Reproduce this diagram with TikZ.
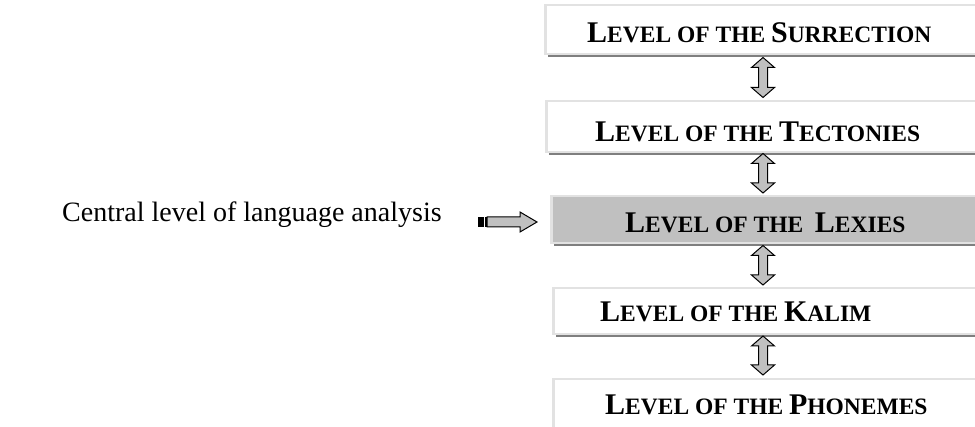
\documentclass[tikz,border=0pt]{standalone}
\usepackage{fontspec}
\setmainfont{Liberation Serif}
\usetikzlibrary{shadows,calc}
\definecolor{boxborder}{HTML}{E2E2E2}
\definecolor{shadowgray}{HTML}{7F7F7F}
\definecolor{centralfill}{HTML}{C0C0C0}
\definecolor{arrowgray}{HTML}{C0C0C0}
\newcommand\hdbig[1]{{\fontsize{30}{30}\selectfont #1}}
\newcommand\hdsmall[1]{{\fontsize{23.5}{23.5}\selectfont #1}}
% vertical double block arrow: x, y-top, y-bottom
\newcommand\dblarr[3]{%
  \draw[blockarrow] (#1,#2) -- (#1+11.5,#2+10) -- (#1+4.5,#2+10) -- (#1+4.5,#3-10)
    -- (#1+11.5,#3-10) -- (#1,#3) -- (#1-11.5,#3-10) -- (#1-4.5,#3-10)
    -- (#1-4.5,#2+10) -- (#1-11.5,#2+10) -- cycle;}
\tikzset{
  levelbox/.style={draw=boxborder, line width=2.5pt, fill=white, anchor=north west,
    minimum width=436pt, inner sep=0pt,
    drop shadow={shadow xshift=3pt, shadow yshift=-3pt, fill=shadowgray, opacity=1}},
  leveltext/.style={anchor=base west, inner sep=0pt, font=\bfseries},
  blockarrow/.style={draw=black, fill=arrowgray, line width=1pt, line join=miter}
}
\begin{document}
\begin{tikzpicture}[x=1pt,y=-1pt]
\clip (0,0) rectangle (975,427);
\fill[white] (0,0) rectangle (975,427);
% level boxes
\node[levelbox, minimum height=49pt] (b1) at (544,4) {};
\node[levelbox, minimum height=51pt] (b2) at (545,100) {};
\node[levelbox, minimum height=47pt, fill=centralfill] (b3) at (550,195) {};
\node[levelbox, minimum height=46pt] (b4) at (552,287) {};
\node[levelbox, minimum height=52pt] (b5) at (552,378) {};
% texts
\node[leveltext] (t1) at (587,43) {\hdbig{L}\hdsmall{EVEL OF THE }\hdbig{S}\hdsmall{URRECTION}};
\node[leveltext] (t2) at (595,142) {\hdbig{L}\hdsmall{EVEL OF THE }\hdbig{T}\hdsmall{ECTONIES}};
\node[leveltext] (t3) at (625,233) {\hdbig{L}\hdsmall{EVEL OF THE\ \ }\hdbig{L}\hdsmall{EXIES}};
\node[leveltext] (t4) at (600,322) {\hdbig{L}\hdsmall{EVEL OF THE }\hdbig{K}\hdsmall{ALIM}};
\node[leveltext] (t5) at (605,415) {\hdbig{L}\hdsmall{EVEL OF THE }\hdbig{P}\hdsmall{HONEMES}};
% double arrows between levels
\dblarr{763}{57.5}{97.5}
\dblarr{763}{153.5}{193}
\dblarr{763}{245.5}{285}
\dblarr{763}{336}{375}
% left label and striped pointer
\node[anchor=base west, inner sep=0pt, font=\fontsize{28}{28}\selectfont] (lbl) at (62,222) {Central level of language analysis};
\draw[blockarrow] (487,217) -- (520,217) -- (520,212) -- (537,222) -- (520,232)
  -- (520,227) -- (487,227) -- cycle;
\fill[black] (478,217) rectangle (483.5,227);
\fill[black] (485,217) rectangle (487,227);
\end{tikzpicture}
\end{document}
